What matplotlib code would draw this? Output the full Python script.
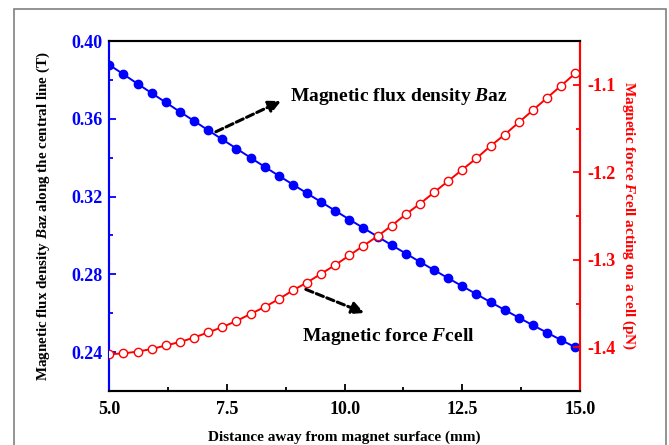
import matplotlib
matplotlib.use("Agg")
import matplotlib.pyplot as plt
from matplotlib.patches import Rectangle
from matplotlib.ticker import MultipleLocator, FormatStrFormatter

plt.rcParams['font.family'] = ['Liberation Serif', 'DejaVu Serif']
plt.rcParams['font.weight'] = 'bold'
plt.rcParams['mathtext.fontset'] = 'custom'
plt.rcParams['mathtext.it'] = 'Liberation Serif:bold:italic'
plt.rcParams['mathtext.rm'] = 'Liberation Serif:bold'

# Data
distance_mm = [5.0, 5.3, 5.6, 5.9, 6.2, 6.5, 6.8, 7.1, 7.4, 7.7, 8.0, 8.3,
               8.6, 8.9, 9.2, 9.5, 9.8, 10.1, 10.4, 10.7, 11.0, 11.3, 11.6,
               11.9, 12.2, 12.5, 12.8, 13.1, 13.4, 13.7, 14.0, 14.3, 14.6, 14.9]
flux_density_T = [0.3877, 0.3829, 0.3780, 0.3732, 0.3684, 0.3636, 0.3589, 0.3541,
                  0.3494, 0.3447, 0.3400, 0.3353, 0.3307, 0.3262, 0.3217, 0.3172,
                  0.3127, 0.3082, 0.3038, 0.2994, 0.2950, 0.2907, 0.2864, 0.2822,
                  0.2780, 0.2739, 0.2698, 0.2657, 0.2617, 0.2577, 0.2538, 0.2500,
                  0.2462, 0.2425]
force_pN = [-1.408, -1.407, -1.405, -1.402, -1.398, -1.394, -1.389, -1.383,
            -1.377, -1.370, -1.362, -1.354, -1.345, -1.335, -1.326, -1.316,
            -1.306, -1.295, -1.284, -1.273, -1.261, -1.248, -1.236, -1.223,
            -1.210, -1.197, -1.184, -1.170, -1.157, -1.143, -1.129, -1.115,
            -1.101, -1.087]

BLUE = '#0000ff'
RED = '#ff0000'

fig = plt.figure(figsize=(6.69, 4.45), dpi=100)
ax = fig.add_axes([109.3/669, 1-391/445, (580-109.3)/669, (391-41)/445])
ax2 = ax.twinx()

ax.plot(distance_mm, flux_density_T, color=BLUE, lw=1.4, marker='o', ms=6,
        mfc=BLUE, mec=BLUE, zorder=3)
ax2.plot(distance_mm, force_pN, color=RED, lw=1.4, marker='o', ms=6,
         mfc='white', mec=RED, mew=1.0, zorder=3)

ax.set_xlim(5.0, 15.0)
ax.set_ylim(0.22, 0.40)
ax2.set_ylim(-1.45, -1.05)

ax.xaxis.set_major_locator(MultipleLocator(2.5))
ax.xaxis.set_minor_locator(MultipleLocator(1.25))
ax.xaxis.set_major_formatter(FormatStrFormatter('%.1f'))
ax.yaxis.set_major_locator(MultipleLocator(0.04))
ax.yaxis.set_minor_locator(MultipleLocator(0.02))
ax.yaxis.set_major_formatter(FormatStrFormatter('%.2f'))
ax2.yaxis.set_major_locator(MultipleLocator(0.1))
ax2.yaxis.set_minor_locator(MultipleLocator(0.05))
ax2.yaxis.set_major_formatter(FormatStrFormatter('%.1f'))
ax.set_yticks([0.24, 0.28, 0.32, 0.36, 0.40])
ax2.set_yticks([-1.4, -1.3, -1.2, -1.1])

for a in (ax, ax2):
    for s in a.spines.values():
        s.set_linewidth(1.5)
    a.spines['top'].set_color('black')
    a.spines['bottom'].set_color('black')
    a.spines['left'].set_color(BLUE)
    a.spines['right'].set_color(RED)

ax.tick_params(axis='x', which='both', direction='in', width=1.3, colors='black',
               labelsize=13, pad=7)
ax.tick_params(axis='x', which='major', length=5)
ax.tick_params(axis='x', which='minor', length=3)
ax.tick_params(axis='y', which='both', direction='in', width=1.3, colors=BLUE,
               labelsize=13, pad=5)
ax.tick_params(axis='y', which='major', length=5)
ax.tick_params(axis='y', which='minor', length=3)
ax2.tick_params(axis='y', which='both', direction='in', width=1.3, colors=RED,
                labelsize=13, pad=5)
ax2.tick_params(axis='y', which='major', length=5)
ax2.tick_params(axis='y', which='minor', length=3)
for lab in ax.get_xticklabels() + ax.get_yticklabels() + ax2.get_yticklabels():
    lab.set_fontweight('bold')

ax.set_xlabel('Distance away from magnet surface (mm)', fontsize=11,
              fontweight='bold', labelpad=9)
ax.set_ylabel(r'Magnetic flux density $B$az along the central line (T)',
              fontsize=10.8, fontweight='bold', color='black', labelpad=14)
ax2.set_ylabel(r'Magnetic force $F$cell acting on a cell (pN)', fontsize=11,
               fontweight='bold', color=RED, rotation=270, labelpad=16)

ax.annotate('', xy=(8.70, 0.3697), xytext=(7.21, 0.3527),
            arrowprops=dict(arrowstyle='-|>', color='black', lw=2.2,
                            linestyle=(0, (2.5, 1.2)), mutation_scale=18))
ax.text(8.84, 0.3713, r'Magnetic flux density $B$az', fontsize=14,
        fontweight='bold', ha='left', va='center')
ax.annotate('', xy=(10.47, 0.2596), xytext=(9.12, 0.2728),
            arrowprops=dict(arrowstyle='-|>', color='black', lw=2.2,
                            linestyle=(0, (2.5, 1.2)), mutation_scale=18))
ax.text(9.09, 0.2478, r'Magnetic force $F$cell', fontsize=14,
        fontweight='bold', ha='left', va='center')

fig.patches.append(Rectangle((14/669, -0.02), (666-14)/669, (445-9)/445 + 0.02,
                             transform=fig.transFigure, fill=False,
                             edgecolor='#808080', lw=1.2))

fig.savefig('out.png', dpi=100)
